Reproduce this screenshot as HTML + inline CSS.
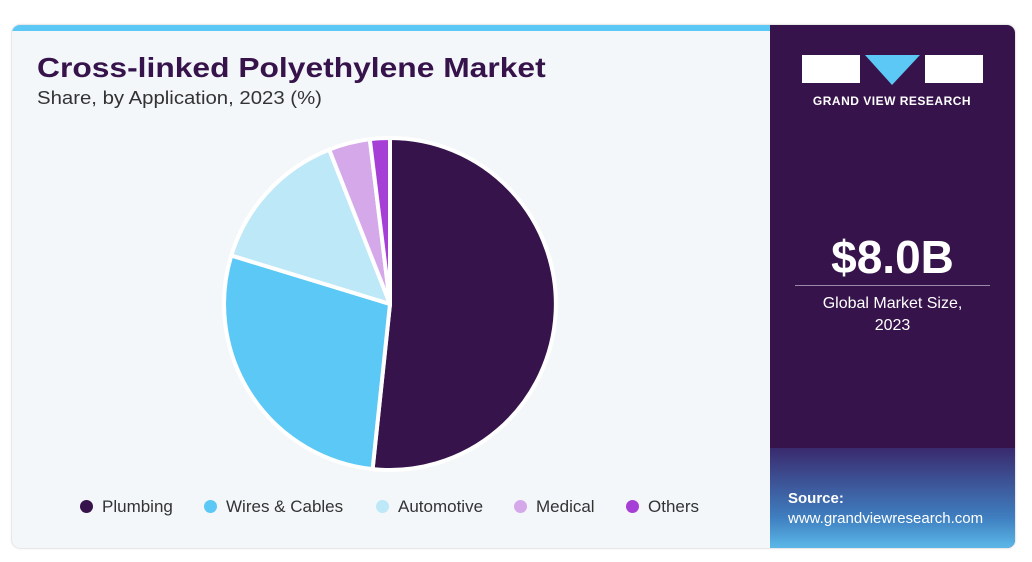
<!DOCTYPE html>
<html><head><meta charset="utf-8"><style>
body{margin:0;width:1032px;height:562px;background:#fff;font-family:"Liberation Sans",sans-serif;position:relative;overflow:hidden}
.card{position:absolute;left:12px;top:25px;width:1003px;height:523px;border-radius:8px;background:#f3f7fa;overflow:hidden;box-shadow:0 0 2px #bbb}
.bar{position:absolute;left:0;top:0;width:758px;height:6px;background:#5bc8f5}
.right{position:absolute;left:758px;top:0;width:245px;height:523px;background:#36134a}
.grid{position:absolute;left:0;bottom:0;width:245px;height:100px;background:linear-gradient(#3a2a6e,#3f7fc0 70%,#5bb8e8)}
h1{position:absolute;left:25px;top:27px;margin:0;font-size:28px;font-weight:900;color:#36134a;transform:scaleX(1.135);transform-origin:left top;white-space:nowrap}
.sub{position:absolute;left:25px;top:63px;font-size:18px;color:#333;transform:scaleX(1.13);transform-origin:left top;white-space:nowrap}
.leg{position:absolute;top:472px;font-size:17px;color:#333}
.leg i{display:inline-block;width:13px;height:13px;border-radius:50%;margin-right:9px;vertical-align:-1px}
</style></head><body>
<div class="card">
<div class="bar"></div>
<h1>Cross-linked Polyethylene Market</h1>
<div class="sub">Share, by Application, 2023 (%)</div>
<div class="leg" style="left:68px"><i style="background:#36134a"></i>Plumbing</div>
<div class="leg" style="left:192px"><i style="background:#5bc8f5"></i>Wires &amp; Cables</div>
<div class="leg" style="left:364px"><i style="background:#bde8f8"></i>Automotive</div>
<div class="leg" style="left:502px"><i style="background:#d5a8ea"></i>Medical</div>
<div class="leg" style="left:614px"><i style="background:#a63fd6"></i>Others</div>
<div class="right">
<div class="grid"></div>
<svg style="position:absolute;left:0;top:0" width="245" height="110">
<rect x="32" y="30" width="58" height="28" fill="#fff"/>
<polygon points="95,30 150,30 122,60" fill="#5bc8f5"/>
<rect x="155" y="30" width="58" height="28" fill="#fff"/>
<text x="122" y="80" fill="#fff" font-size="12" font-weight="bold" text-anchor="middle" font-family="Liberation Sans" letter-spacing="0.5">GRAND VIEW RESEARCH</text>
</svg>
<div style="position:absolute;left:0;width:245px;top:205px;text-align:center;color:#fff;font-size:46px;font-weight:bold">$8.0B</div>
<div style="position:absolute;left:25px;width:195px;top:260px;border-top:1px solid #9a8aa8"></div>
<div style="position:absolute;left:0;width:245px;top:268px;text-align:center;color:#fff;font-size:16px;line-height:22px">Global Market Size,<br>2023</div>
<div style="position:absolute;left:18px;top:464px;color:#fff;font-size:15px;line-height:20px"><b>Source:</b><br>www.grandviewresearch.com</div>
</div>
</div>
<svg style="position:absolute;left:0;top:0" width="1032" height="562">
<g stroke="#fff" stroke-width="4" stroke-linejoin="round">
<path d="M390,304 L390,138 A166,166 0 1 1 372.6,469.1 Z" fill="#36134a"/>
<path d="M390,304 L372.6,469.1 A166,166 0 0 1 231.3,255.5 Z" fill="#5bc8f5"/>
<path d="M390,304 L231.3,255.5 A166,166 0 0 1 329.2,149.6 Z" fill="#bde8f8"/>
<path d="M390,304 L329.2,149.6 A166,166 0 0 1 369.8,139.2 Z" fill="#d5a8ea"/>
<path d="M390,304 L369.8,139.2 A166,166 0 0 1 390,138 Z" fill="#a63fd6"/>
</g>
</svg>
</body></html>
